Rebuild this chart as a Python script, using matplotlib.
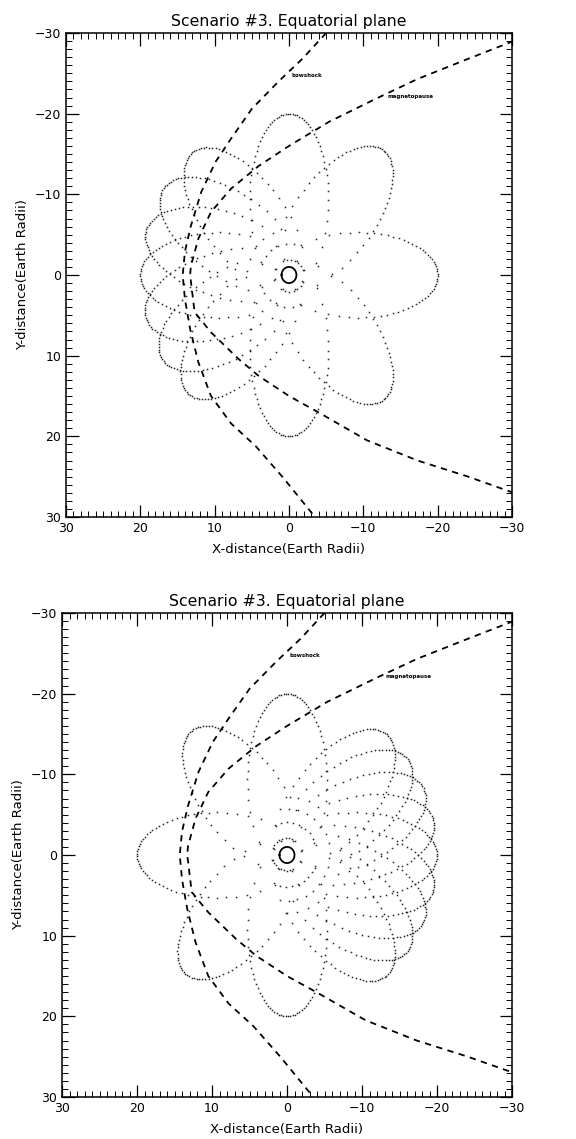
import numpy as np
import matplotlib
matplotlib.use("Agg")
import matplotlib.pyplot as plt
from matplotlib.ticker import MultipleLocator

# orbit parameters (Earth radii, degrees)
apogee_radius = 20.0
perigee_radius = 1.4
points_per_orbit = 58
# apogee directions (in the x-y data frame) for the two panels
apogee_dirs_top = [-90, -49, -32, -16, 0, 15, 31, 47, 90, 130, 180, -130]
apogee_dirs_bottom = [-90, -50, 0, 47, 90, 132, 144, 156, 168, 180, 192, 204, 216, 228]

# boundary curves
bowshock_x = [-5.0, -1.8, 1.4, 5.0, 7.8, 9.9, 11.8, 13.2, 14.0, 14.3,
              14.0, 13.3, 12.2, 10.5, 7.8, 4.5, 0.9, -3.5]
bowshock_y = [-30.0, -26.8, -24.0, -20.6, -16.9, -14.0, -10.3, -6.1, -2.9, 0.0,
              3.0, 6.7, 10.8, 15.0, 18.4, 21.2, 25.0, 30.0]
magpause_x = [-30.2, -24.1, -17.3, -11.8, -5.4, 0.0, 4.1, 7.8, 10.5, 12.2, 13.2, 13.3,
              12.7, 10.5, 6.8, 4.1, 0.0, -4.1, -10.5, -17.3, -24.1, -30.2]
magpause_y = [-29.0, -26.8, -24.3, -21.9, -19.0, -16.0, -13.5, -10.7, -7.8, -4.5, -1.1, 0.0,
              4.6, 7.1, 10.4, 12.5, 15.0, 17.1, 20.5, 23.0, 25.0, 27.0]

earth_radius = 1.0
ticks = [30, 20, 10, 0, -10, -20, -30]
title = "Scenario #3. Equatorial plane"


def orbit_points(direction):
    a = (apogee_radius + perigee_radius) / 2
    e = (apogee_radius - perigee_radius) / (apogee_radius + perigee_radius)
    b = a * np.sqrt(1 - e * e)
    M = np.linspace(0, 2 * np.pi, points_per_orbit, endpoint=False) + 0.05
    E = M.copy()
    for _ in range(30):
        E = E - (E - e * np.sin(E) - M) / (1 - e * np.cos(E))
    xo = a * (np.cos(E) - e)
    yo = b * np.sin(E)
    th = np.radians(direction + 180)
    return xo * np.cos(th) - yo * np.sin(th), xo * np.sin(th) + yo * np.cos(th)


def draw_panel(ax, dirs):
    for d in dirs:
        x, y = orbit_points(d)
        ax.plot(x, y, linestyle="none", marker="s", markersize=1.1,
                markeredgewidth=0, color="#222222")
    ax.plot(bowshock_x, bowshock_y, color="black", lw=1.3, dashes=(3.5, 3))
    ax.plot(magpause_x, magpause_y, color="black", lw=1.3, dashes=(3.5, 3))
    t = np.linspace(0, 2 * np.pi, 60)
    ax.plot(earth_radius * np.cos(t), earth_radius * np.sin(t), color="black", lw=1.3)
    ax.text(-0.3, -24.5, "bowshock", fontsize=4, fontweight="bold")
    ax.text(-13.2, -21.9, "magnetopause", fontsize=4, fontweight="bold")

    ax.set_xlim(30, -30)
    ax.set_ylim(30, -30)
    ax.set_xticks(ticks)
    ax.set_yticks(ticks)
    ax.xaxis.set_minor_locator(MultipleLocator(1))
    ax.yaxis.set_minor_locator(MultipleLocator(1))
    ax.tick_params(which="both", direction="in", top=True, right=True, labelsize=9)
    ax.tick_params(which="major", length=9, width=0.9)
    ax.tick_params(which="minor", length=4, width=0.7)
    for s in ax.spines.values():
        s.set_linewidth(1.1)
    ax.set_title(title, fontsize=11.3, pad=5)
    ax.set_xlabel("X-distance(Earth Radii)", fontsize=9.5, labelpad=6)
    ax.set_ylabel("Y-distance(Earth Radii)", fontsize=9.5, labelpad=4)


fig = plt.figure(figsize=(5.76, 11.39), dpi=100)
ax1 = fig.add_axes([66 / 576, 1 - 517 / 1139, 446 / 576, 484 / 1139])
ax2 = fig.add_axes([62 / 576, 1 - 1097 / 1139, 450 / 576, 484 / 1139])
draw_panel(ax1, apogee_dirs_top)
draw_panel(ax2, apogee_dirs_bottom)
fig.savefig("out.png", dpi=100)
